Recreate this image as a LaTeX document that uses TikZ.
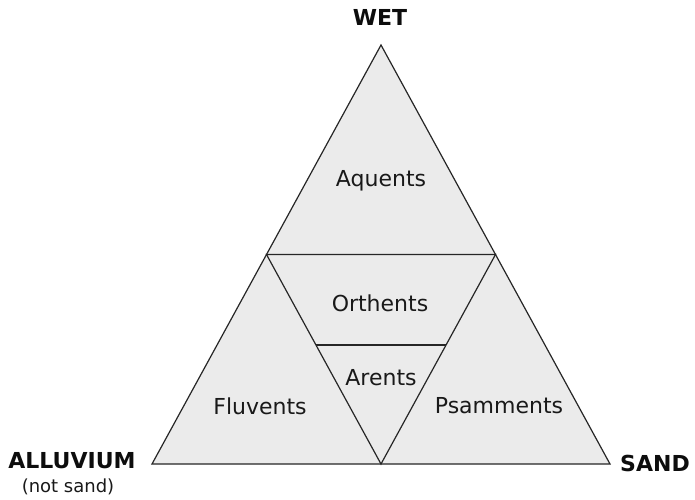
\documentclass[tikz,border=0pt]{standalone}
\usepackage{fontspec}
\setmainfont{DejaVu Sans}
\begin{document}
\begin{tikzpicture}[x=1pt,y=-1pt,
  edge/.style={draw=black!85,line width=1.2pt,line join=miter},
  lbl/.style={font=\fontsize{22}{24}\selectfont,text=black!90,inner sep=0pt},
  corner/.style={font=\bfseries\fontsize{22}{24}\selectfont,text=black!95,inner sep=0pt}]
\useasboundingbox[fill=white] (0,0) rectangle (695,499);
\coordinate (T) at (381,45);
\coordinate (L) at (152,464);
\coordinate (R) at (610,464);
\coordinate (ML) at (266.5,254.5);
\coordinate (MR) at (495.5,254.5);
\coordinate (MB) at (381,464);
\coordinate (IL) at (316,345);
\coordinate (IR) at (446,345);
\fill[black!8] (T) -- (R) -- (L) -- cycle;
\draw[edge] (T) -- (R) -- (L) -- cycle;
\draw[edge] (ML) -- (MR) -- (MB) -- cycle;
\draw[edge] (IL) -- (IR);
\node[lbl] (aq) at (381,181) {Aquents};
\node[lbl] (or) at (380,303) {Orthents};
\node[lbl] (ar) at (381,378) {Arents};
\node[lbl] (fl) at (260,406) {Fluvents};
\node[lbl] (ps) at (499,406) {Psamments};
\node[corner] (wet) at (380,17) {WET};
\node[corner] (al) at (72,461) {ALLUVIUM};
\node[lbl,font=\fontsize{18}{20}\selectfont] (ns) at (68,487) {(not sand)};
\node[corner] (sa) at (655,463) {SAND};
\end{tikzpicture}
\end{document}
